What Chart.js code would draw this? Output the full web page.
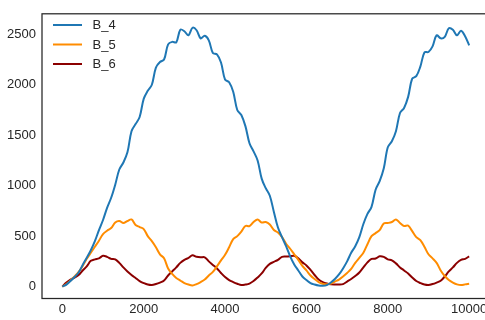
<!DOCTYPE html>
<html>
<head>
<meta charset="utf-8">
<script src="https://cdn.jsdelivr.net/npm/chart.js@4.4.0/dist/chart.umd.min.js"></script>
<style>
html, body {margin: 0; padding: 0; width: 485px; height: 320px; overflow: hidden; background: #fff;}
canvas {display: block;}
</style>
</head>
<body>
<canvas id="chart" width="520" height="320" style="width:520px;height:320px"></canvas>
<script>
'use strict'
// sample positions (every 100)
const xValues = [
    0, 100, 200, 300, 400, 500, 600, 700, 800, 900, 1000,
    1100, 1200, 1300, 1400, 1500, 1600, 1700, 1800, 1900, 2000,
    2100, 2200, 2300, 2400, 2500, 2600, 2700, 2800, 2900, 3000,
    3100, 3200, 3300, 3400, 3500, 3600, 3700, 3800, 3900, 4000,
    4100, 4200, 4300, 4400, 4500, 4600, 4700, 4800, 4900, 5000,
    5100, 5200, 5300, 5400, 5500, 5600, 5700, 5800, 5900, 6000,
    6100, 6200, 6300, 6400, 6500, 6600, 6700, 6800, 6900, 7000,
    7100, 7200, 7300, 7400, 7500, 7600, 7700, 7800, 7900, 8000,
    8100, 8200, 8300, 8400, 8500, 8600, 8700, 8800, 8900, 9000,
    9100, 9200, 9300, 9400, 9500, 9600, 9700, 9800, 9900, 10000
];
const b4 = [
    0, 20, 55, 95, 140, 215, 285, 360, 450, 560, 660,
    780, 880, 1010, 1160, 1230, 1330, 1540, 1610, 1680, 1860,
    1940, 2000, 2170, 2225, 2250, 2400, 2425, 2420, 2545, 2530,
    2490, 2565, 2540, 2460, 2485, 2440, 2315, 2300, 2220, 2050,
    2025, 1930, 1750, 1700, 1590, 1420, 1340, 1250, 1070, 975,
    900, 740, 585, 490, 400, 300, 220, 160, 100, 65,
    35, 20, 10, 8, 15, 40, 75, 120, 180, 250,
    335, 400, 490, 620, 720, 790, 960, 1045, 1170, 1380,
    1440, 1540, 1720, 1770, 1880, 2060, 2085, 2180, 2320, 2325,
    2380, 2490, 2460, 2475, 2560, 2545, 2490, 2535, 2480, 2390
];
const b5 = [
    0, 25, 60, 100, 145, 205, 275, 335, 395, 455, 520,
    553, 580, 635, 650, 630, 650, 665, 610, 590, 570,
    500, 450, 390, 320, 280, 180, 125, 85, 60, 35,
    20, 12, 25, 45, 70, 110, 145, 200, 260, 315,
    390, 470, 500, 545, 600, 600, 640, 665, 635, 640,
    615, 560, 535, 490, 425, 375, 320, 265, 205, 160,
    110, 75, 45, 28, 22, 30, 50, 70, 100, 135,
    175, 235, 285, 335, 420, 500, 530, 560, 625, 630,
    640, 665, 630, 600, 605, 550, 490, 460, 395, 320,
    280, 235, 160, 105, 65, 40, 22, 15, 22, 28
];
const b6 = [
    0, 40, 70, 90, 115, 160, 200, 255, 270, 280, 305,
    295, 275, 270, 235, 190, 150, 115, 85, 55, 35,
    20, 15, 25, 40, 60, 110, 150, 190, 235, 265,
    285, 310, 295, 290, 290, 250, 215, 180, 135, 95,
    65, 45, 28, 15, 20, 30, 55, 90, 130, 185,
    225, 245, 265, 295, 298, 300, 305, 280, 240, 210,
    165, 115, 70, 45, 30, 22, 20, 20, 25, 50,
    75, 105, 140, 190, 240, 274, 278, 300, 295, 270,
    260, 230, 190, 160, 130, 90, 55, 35, 20, 15,
    25, 40, 58, 100, 150, 190, 235, 265, 275, 300
];
const seriesNames = ['B_4', 'B_5', 'B_6'];
const seriesColors = ['#1f77b4', '#ff8c00', '#8b0000'];
const xTicks = [0, 2000, 4000, 6000, 8000, 10000];
const yTicks = [0, 500, 1000, 1500, 2000, 2500];

const textColor = '#262626';
const fontFamily = '"Liberation Sans", Arial, sans-serif';
Chart.defaults.font.family = fontFamily;
Chart.defaults.font.size = 13;
Chart.defaults.color = textColor;

function toPoints(ys) {
    return ys.map((y, i) => ({x: xValues[i], y: y}));
}

// box around the plot area
const frame = {
    id: 'frame',
    afterDraw(chart) {
        const a = chart.chartArea;
        const ctx = chart.ctx;
        ctx.save();
        ctx.strokeStyle = textColor;
        ctx.lineWidth = 1.25;
        ctx.strokeRect(a.left, a.top, a.right - a.left, a.bottom - a.top);
        ctx.restore();
    }
};

// matplotlib-like legend in the upper left, no box
const cornerLegend = {
    id: 'cornerLegend',
    afterDatasetsDraw(chart) {
        const ctx = chart.ctx;
        ctx.save();
        ctx.font = '13px ' + fontFamily;
        ctx.textBaseline = 'middle';
        chart.data.datasets.forEach((ds, i) => {
            const y = 25 + i * 19.5;
            ctx.strokeStyle = ds.borderColor;
            ctx.lineWidth = 2;
            ctx.beginPath();
            ctx.moveTo(53, y);
            ctx.lineTo(82, y);
            ctx.stroke();
            ctx.fillStyle = textColor;
            ctx.fillText(ds.label, 92.5, y + 0.5);
        });
        ctx.restore();
    }
};

const ctx = document.getElementById('chart');
const chart = new Chart(ctx, {
    type: 'line',
    data: {
        datasets: [b4, b5, b6].map((ys, i) => ({
            label: seriesNames[i],
            data: toPoints(ys),
            borderColor: seriesColors[i],
            backgroundColor: seriesColors[i],
            borderWidth: 2,
            pointRadius: 0,
            tension: 0.35,
            fill: false
        }))
    },
    options: {
        responsive: false,
        animation: false,
        devicePixelRatio: 1,
        layout: {padding: {top: 8, right: 30.5, left: 0, bottom: 0}},
        plugins: {legend: {display: false}, tooltip: {enabled: false}},
        scales: {
            x: {
                type: 'linear',
                min: -500,
                max: 10500,
                grid: {display: false, drawTicks: false},
                border: {display: false},
                ticks: {padding: 3, maxRotation: 0, callback: v => String(v)},
                afterBuildTicks: s => { s.ticks = xTicks.map(v => ({value: v})); },
                afterFit: s => { s.height = 21.5; }
            },
            y: {
                min: -118,
                max: 2703,
                grid: {display: false, drawTicks: false},
                border: {display: false},
                ticks: {padding: 6, callback: v => String(v)},
                afterBuildTicks: s => { s.ticks = yTicks.map(v => ({value: v})); },
                afterFit: s => { s.width = 42; }
            }
        }
    },
    plugins: [frame, cornerLegend]
});
</script>
</body>
</html>
